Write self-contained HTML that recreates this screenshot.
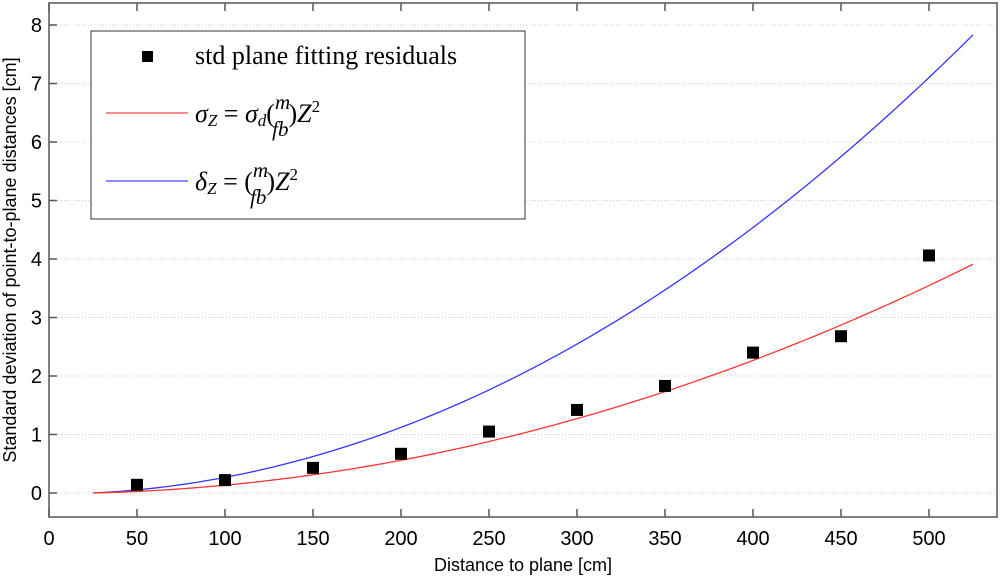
<!DOCTYPE html>
<html><head><meta charset="utf-8"><style>
body{margin:0;background:#fff;width:1000px;height:576px;overflow:hidden}
svg text{font-family:"Liberation Sans",sans-serif}
.ser{font-family:"Liberation Serif",serif}
</style></head><body>
<svg id="chart" width="1000" height="576">
<g id="grid"></g>
<rect x="49" y="3" width="948" height="514" fill="none" stroke="#555" stroke-width="1.5"/>
<g id="ticks"></g>
<g id="series"></g>
<text x="523" y="571" font-size="18" text-anchor="middle">Distance to plane [cm]</text>
<text transform="translate(16,260) rotate(-90)" font-size="18" text-anchor="middle">Standard deviation of point-to-plane distances [cm]</text>
<g>
<rect x="91" y="31" width="434" height="188" fill="#fff" stroke="#333" stroke-width="1"/>
<rect x="142" y="51" width="11" height="11" fill="#000"/>
<text class="ser" x="195" y="64" font-size="26">std plane fitting residuals</text>
<line x1="106" y1="113" x2="188" y2="113" stroke="#f66" stroke-width="1.5"/>
<text class="ser" x="195" y="122" font-size="26" font-style="italic">σ<tspan font-size="17" dy="4">Z</tspan><tspan dy="-4" font-style="normal"> = </tspan>σ<tspan font-size="17" dy="4">d</tspan><tspan dy="-4" font-style="normal">(</tspan><tspan font-size="21" dy="-13">m</tspan><tspan font-size="21" dx="-18" dy="27">fb</tspan><tspan font-style="normal" dy="-14">)</tspan>Z<tspan font-size="17" dy="-10" font-style="normal">2</tspan></text>
<line x1="106" y1="181" x2="188" y2="181" stroke="#66f" stroke-width="1.5"/>
<text class="ser" x="195" y="190" font-size="26" font-style="italic">δ<tspan font-size="17" dy="4">Z</tspan><tspan dy="-4" font-style="normal"> = (</tspan><tspan font-size="21" dy="-13">m</tspan><tspan font-size="21" dx="-18" dy="27">fb</tspan><tspan font-style="normal" dy="-14">)</tspan>Z<tspan font-size="17" dy="-10" font-style="normal">2</tspan></text>
</g>
</svg>
<script>
const xTicks=[0,50,100,150,200,250,300,350,400,450,500];
const yTicks=[0,1,2,3,4,5,6,7,8];
const distances=[50,100,150,200,250,300,350,400,450,500];
const residuals=[0.14,0.22,0.43,0.67,1.05,1.42,1.83,2.40,2.68,4.06];
const sigmaCoef=[1.422e-5];
const deltaCoef=[2.848e-5];
const curveRange=[25,525];
const NS='http://www.w3.org/2000/svg';
const X=v=>49+v*1.76, Y=v=>493-v*58.5;
function mk(t,a,p){const e=document.createElementNS(NS,t);for(const k in a)e.setAttribute(k,a[k]);p.appendChild(e);return e;}
const grid=document.getElementById('grid'),ticks=document.getElementById('ticks'),ser=document.getElementById('series');
xTicks.forEach(v=>{
 const l=mk('line',{x1:X(v),x2:X(v),y1:517,y2:509,stroke:'#555','stroke-width':1.5},ticks);
 
 
 const l2=mk('line',{x1:X(v),x2:X(v),y1:3,y2:11,stroke:'#555','stroke-width':1.5},ticks);
 
 
 const t=mk('text',{x:X(v),y:545,'font-size':20,'text-anchor':'middle'},ticks);t.textContent=v;
 
 
});
yTicks.forEach(v=>{
 const g=mk('line',{x1:49,x2:997,y1:Y(v),y2:Y(v),stroke:'#bbb','stroke-width':0.8,'stroke-dasharray':'1,2'},grid);
 
 
 const l=mk('line',{x1:49,x2:57,y1:Y(v),y2:Y(v),stroke:'#555','stroke-width':1.5},ticks);
 
 
 const t=mk('text',{x:42,y:Y(v)+7,'font-size':20,'text-anchor':'end'},ticks);t.textContent=v;
 
 
});
function curve(k,col,name){let d='';for(let z=curveRange[0];z<=curveRange[1];z+=5){d+=(d?'L':'M')+X(z)+','+Y(k*(z*z-curveRange[0]*curveRange[0]));}
 const p=mk('path',{d:d,fill:'none',stroke:col,'stroke-width':1.3},ser);
 
 }
curve(deltaCoef[0],'#33f','delta-curve');
curve(sigmaCoef[0],'#f33','sigma-curve');
distances.forEach((d,i)=>{const r=mk('rect',{x:X(d)-6,y:Y(residuals[i])-6,width:12,height:12,fill:'#000'},ser);
 
 });
</script>
</body></html>
